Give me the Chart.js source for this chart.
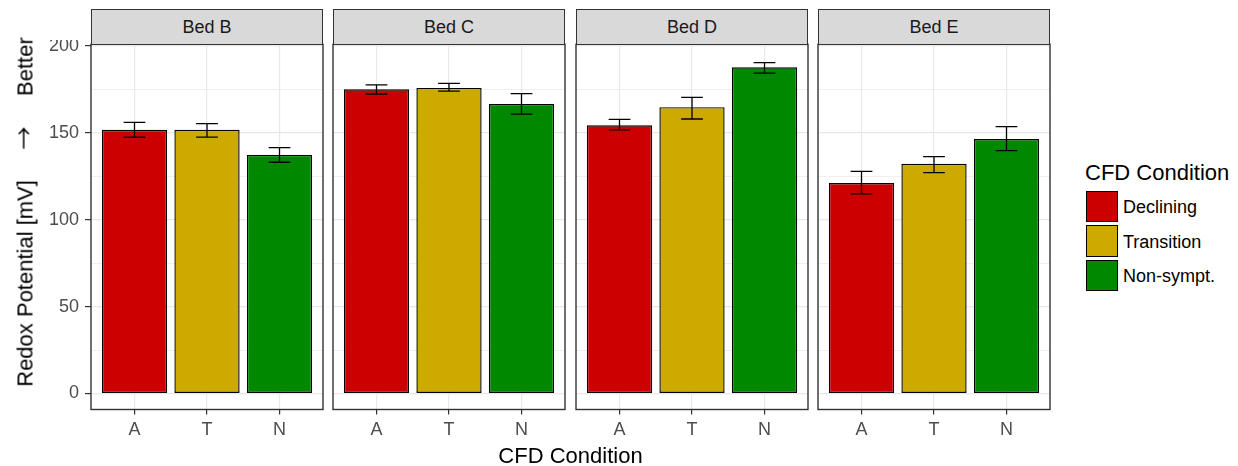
<!DOCTYPE html>
<html>
<head>
<meta charset="utf-8">
<script src="https://cdn.jsdelivr.net/npm/chart.js@4"></script>
<style>
  html, body { margin: 0; padding: 0; background: #ffffff; }
  body { width: 1238px; height: 466px; position: relative; overflow: hidden;
         font-family: "Liberation Sans", Arial, sans-serif; }
  canvas { position: absolute; }
  .txt { position: absolute; line-height: 1; white-space: pre; }
  .arrow { font-family: "Noto Sans CJK SC", "DejaVu Sans", sans-serif; font-size: 23px; }
  .strip { position: absolute; box-sizing: border-box; background: #d9d9d9;
           border: 1.3px solid #333333; color: #1a1a1a; font-size: 18px;
           display: flex; align-items: center; justify-content: center; }
  .key { position: absolute; box-sizing: border-box; border: 1.3px solid #000; }
</style>
</head>
<body>
<script>
// Facets, conditions and colours
const beds = ['Bed B', 'Bed C', 'Bed D', 'Bed E'];
const conditionCodes = ['A', 'T', 'N'];
const conditionNames = ['Declining', 'Transition', 'Non-sympt.'];
const conditionColors = ['#cc0000', '#ccaa00', '#008800'];

// Mean redox potential [mV] per bed (order: A, T, N)
const redoxBedB = [151.8, 151.8, 137.3];
const redoxBedC = [175.1, 175.9, 166.7];
const redoxBedD = [154.4, 164.8, 187.8];
const redoxBedE = [121.1, 132.2, 146.5];

// Error bar limits (lower / upper)
const lowBedB = [147.5, 147.6, 133.1];
const highBedB = [156.1, 155.3, 141.5];
const lowBedC = [172.4, 174.0, 160.8];
const highBedC = [177.7, 178.5, 172.6];
const lowBedD = [151.7, 158.0, 184.4];
const highBedD = [157.8, 170.5, 190.5];
const lowBedE = [114.9, 127.1, 139.8];
const highBedE = [127.9, 136.4, 153.6];

// Axis ticks
const yGridValues = [0, 25, 50, 75, 100, 125, 150, 175, 200];
const yTickLabels = [0, 50, 100, 150, 200];

const redoxByBed = [redoxBedB, redoxBedC, redoxBedD, redoxBedE];
const lowByBed = [lowBedB, lowBedC, lowBedD, lowBedE];
const highByBed = [highBedB, highBedC, highBedD, highBedE];

// Layout of the facet panels
const panelLefts = [91, 333, 576, 818];
const panelWidth = 232;
const stripTop = 9;
const panelTop = 44.3;
const panelBottom = 409.5;
const canvasTop = 40;
const yAxisWidth = 91;

const FONT = '"Liberation Sans", Arial, sans-serif';

function addText(parts, css) {
  const d = document.createElement('div');
  d.className = 'txt';
  parts.forEach(p => {
    const s = document.createElement('span');
    s.textContent = p.text;
    if (p.cls) s.className = p.cls;
    d.appendChild(s);
  });
  Object.assign(d.style, css);
  document.body.appendChild(d);
  return d;
}

const errorBarPlugin = {
  id: 'errorBars',
  afterDatasetsDraw(chart, args, opts) {
    const { ctx } = chart;
    const xs = chart.scales.x, ys = chart.scales.y;
    ctx.save();
    ctx.strokeStyle = '#000000';
    ctx.lineWidth = 1.3;
    opts.low.forEach((lo, i) => {
      const hi = opts.high[i];
      const xc = xs.getPixelForValue(i + 1);
      const half = xs.getPixelForValue(i + 1 + 0.15) - xc;
      const yl = ys.getPixelForValue(lo), yh = ys.getPixelForValue(hi);
      ctx.beginPath();
      ctx.moveTo(xc, yl); ctx.lineTo(xc, yh);
      ctx.moveTo(xc - half, yl); ctx.lineTo(xc + half, yl);
      ctx.moveTo(xc - half, yh); ctx.lineTo(xc + half, yh);
      ctx.stroke();
    });
    // panel border
    const a = chart.chartArea;
    ctx.strokeStyle = '#333333';
    ctx.lineWidth = 1.4;
    ctx.strokeRect(a.left, a.top, a.right - a.left, a.bottom - a.top);
    ctx.restore();
  }
};

beds.forEach((bed, p) => {
  const first = p === 0;
  const canvas = document.createElement('canvas');
  const left = first ? 0 : panelLefts[p] - 4;
  const width = first ? yAxisWidth + panelWidth + 4 : panelWidth + 8;
  const height = 466 - canvasTop;
  canvas.width = width; canvas.height = height;
  canvas.style.left = left + 'px';
  canvas.style.top = canvasTop + 'px';
  canvas.style.width = width + 'px';
  canvas.style.height = height + 'px';
  document.body.appendChild(canvas);

  // strip label
  const s = document.createElement('div');
  s.className = 'strip';
  s.textContent = bed;
  Object.assign(s.style, {
    left: panelLefts[p] + 'px', top: stripTop + 'px',
    width: panelWidth + 'px', height: (panelTop - stripTop + 0.7) + 'px'
  });
  document.body.appendChild(s);

  const values = redoxByBed[p];
  new Chart(canvas, {
    type: 'bar',
    data: {
      datasets: [{
        data: values.map((v, i) => ({ x: i + 1, y: v })),
        backgroundColor: conditionColors,
        borderColor: '#000000',
        borderWidth: 1.4,
        borderSkipped: false,
        barPercentage: 0.9,
        categoryPercentage: 1.0
      }]
    },
    options: {
      responsive: false,
      animation: false,
      devicePixelRatio: 1,
      layout: {
        autoPadding: false,
        padding: { left: first ? 0 : 4, right: 4, top: panelTop - canvasTop, bottom: 0 }
      },
      plugins: {
        legend: { display: false },
        tooltip: { enabled: false },
        errorBars: { low: lowByBed[p], high: highByBed[p] }
      },
      scales: {
        x: {
          type: 'linear',
          min: 0.4, max: 3.6,
          offset: false,
          afterBuildTicks: sc => { sc.ticks = conditionCodes.map((c, i) => ({ value: i + 1 })); },
          afterFit: sc => {
            sc.height = 466 - panelBottom;
            sc.paddingLeft = 0; sc.paddingRight = 0;
          },
          border: { display: false },
          grid: {
            offset: false,
            color: '#e8e8e8', lineWidth: 1.2,
            tickColor: '#333333', tickLength: 5, tickWidth: 1.2
          },
          ticks: {
            callback: v => conditionCodes[Math.round(v) - 1] || '',
            color: '#4d4d4d',
            font: { family: FONT, size: 18 },
            padding: 5,
            maxRotation: 0, autoSkip: false
          }
        },
        y: {
          min: -9.2, max: 201,
          afterBuildTicks: sc => { sc.ticks = yGridValues.map(v => ({ value: v })); },
          afterFit: sc => {
            sc.width = first ? yAxisWidth : 0;
            sc.paddingTop = 0; sc.paddingBottom = 0;
          },
          border: { display: false },
          grid: {
            color: '#e8e8e8',
            lineWidth: c => (yTickLabels.includes(c.tick.value) ? 1.2 : 0.7),
            drawTicks: first,
            tickLength: 6,
            tickWidth: 1.2,
            tickColor: c => (yTickLabels.includes(c.tick.value) ? '#333333' : 'rgba(0,0,0,0)')
          },
          ticks: {
            display: first,
            callback: v => (yTickLabels.includes(v) ? String(v) : ''),
            color: '#4d4d4d',
            font: { family: FONT, size: 18 },
            padding: 6,
            autoSkip: false
          }
        }
      }
    },
    plugins: [errorBarPlugin]
  });
});

// axis titles
addText([
  { text: 'Redox Potential [mV]     ' },
  { text: '\u2192', cls: 'arrow' },
  { text: '     Better' }
], {
  left: '23.5px', top: '212px', fontSize: '22px', color: '#000',
  transform: 'translate(-50%, -50%) rotate(-90deg)'
});
addText([{ text: 'CFD Condition' }], {
  left: '570.5px', top: '456px', fontSize: '22px', color: '#000',
  transform: 'translate(-50%, -50%)'
});

// legend
addText([{ text: 'CFD Condition' }], {
  left: '1085px', top: '173px', fontSize: '22px', color: '#000',
  transform: 'translateY(-50%)'
});
const keyTops = [190.7, 225.3, 259.6];
conditionNames.forEach((name, i) => {
  const k = document.createElement('div');
  k.className = 'key';
  Object.assign(k.style, {
    left: '1086px', top: keyTops[i] + 'px', width: '31.5px', height: '31.5px',
    background: conditionColors[i]
  });
  document.body.appendChild(k);
  addText([{ text: name }], {
    left: '1123px', top: (keyTops[i] + 16.5) + 'px', fontSize: '18px', color: '#000',
    transform: 'translateY(-50%)'
  });
});
</script>
</body>
</html>
